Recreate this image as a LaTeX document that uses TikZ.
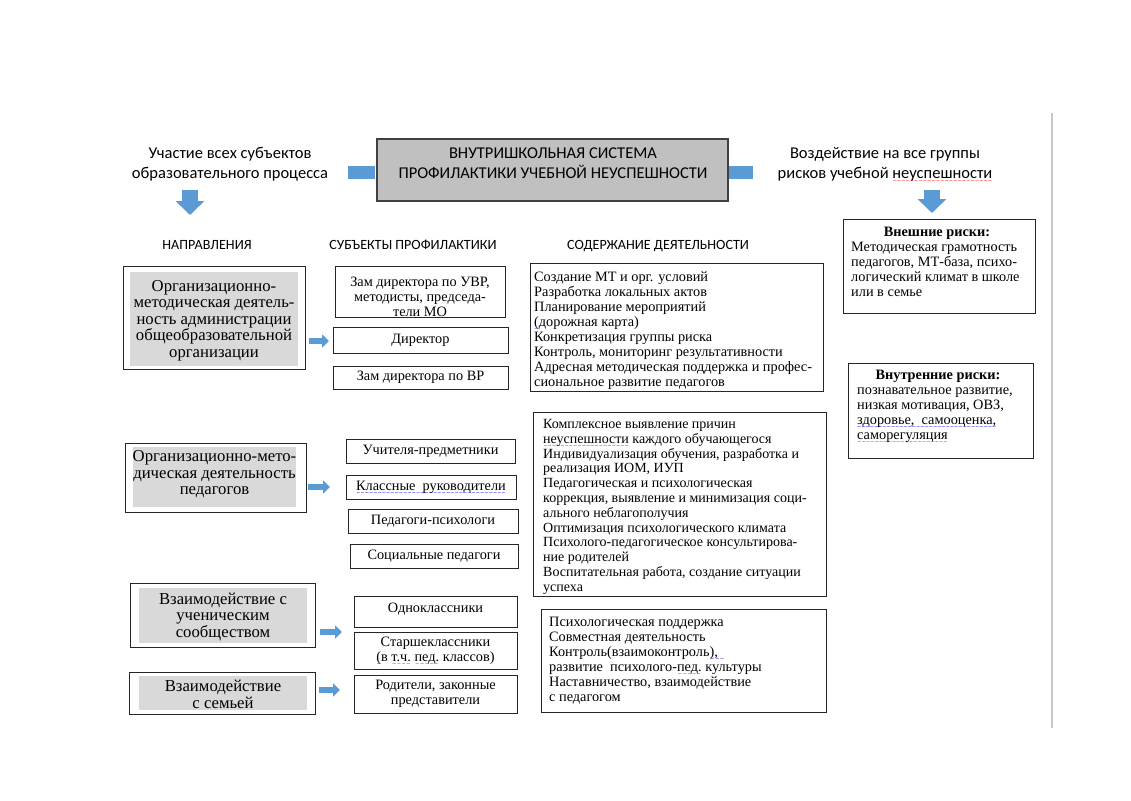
\documentclass[tikz,border=0pt]{standalone}
\usepackage{fontspec}
\setmainfont{Liberation Serif}
\newfontfamily\calfont{Carlito}
\newfontfamily\wavefont{DejaVu Sans}
\usetikzlibrary{fit,arrows.meta}
\definecolor{arrowblue}{HTML}{5B9BD5}
\definecolor{boxgray}{HTML}{C0C0C0}
\definecolor{padgray}{HTML}{D9D9D9}
\newcommand\wavy[2]{\leavevmode\setbox0\hbox{#2}\rlap{\raisebox{-4.2pt}[0pt][0pt]{\textcolor{#1}{\wavefont\fontsize{5}{5}\selectfont\hbox to \wd0{\xleaders\hbox{\char126}\hfill}}}}\box0\relax}
\newcommand\bodyfont{\fontsize{14.3}{15}\selectfont}
\newcommand\bodyfontb{\fontsize{14}{14.8}\selectfont}
\newcommand\dirfont{\fontsize{16.7}{16.5}\selectfont}
\newcommand\topfont{\calfont\fontsize{16.5}{20}\selectfont}
\newcommand\headfont{\calfont\fontsize{14.1}{16}\selectfont}
\tikzset{
  frame/.style={draw=black!85, line width=0.9pt, inner sep=0pt},
  mainbox/.style={draw=black!75, fill=boxgray, line width=1.2pt, inner sep=0pt},
  graypad/.style={fill=padgray, inner sep=0pt},
  subjtext/.style={align=center, font=\bodyfont, inner sep=0pt},
  body/.style={anchor=north west, inner sep=0pt, align=left, font=\bodyfont},
  dirtext/.style={align=center, font=\dirfont, inner sep=0pt},
  toptext/.style={align=center, font=\topfont, inner sep=0pt},
  headtext/.style={anchor=base, font=\headfont, inner sep=0pt},
  risktitle/.style={anchor=base, font=\bodyfont\bfseries, inner sep=0pt},
  bluebar/.style={fill=arrowblue, inner sep=0pt},
  blockarrow/.style={draw=arrowblue, line width=5.5pt, -{Triangle[length=7pt,width=13pt]}},
  bigarrow/.style={draw=arrowblue, line width=16pt, -{Triangle[length=14pt,width=28pt]}},
  pageedge/.style={draw=black!22, line width=1.5pt}
}
\begin{document}
\begin{tikzpicture}[x=1pt,y=-1pt]
\useasboundingbox (0,0) rectangle (1131,800);
\fill[white] (0,0) rectangle (1131,800);

% page edge
\coordinate (pe1) at (1052,113);
\coordinate (pe2) at (1052,728);
\draw[pageedge] (pe1) -- (pe2);

% top
\node[mainbox, fit={(377,139)(728,201)}] (main) {};
\node[toptext] (maint) at (553,163) {ВНУТРИШКОЛЬНАЯ СИСТЕМА\\ПРОФИЛАКТИКИ УЧЕБНОЙ НЕУСПЕШНОСТИ};
\node[bluebar, fit={(348,166)(375,179)}] (barl) {};
\node[bluebar, fit={(729,166)(753,179)}] (barr) {};
\node[toptext] (uch) at (230,164) {Участие всех субъектов\\образовательного процесса};
\node[toptext] (vozd) at (885,164.5) {Воздействие на все группы\\рисков учебной \wavy{red}{неуспешности}};
\coordinate (dl1) at (190,190);
\coordinate (dl2) at (190,215);
\draw[bigarrow] (dl1) -- (dl2);
\coordinate (dr1) at (932,190);
\coordinate (dr2) at (932,213);
\draw[bigarrow] (dr1) -- (dr2);

% headers
\node[headtext] (h1) at (207,249.5) {НАПРАВЛЕНИЯ};
\node[headtext] (h2) at (413,249.5) {СУБЪЕКТЫ ПРОФИЛАКТИКИ};
\node[headtext] (h3) at (658,249.5) {СОДЕРЖАНИЕ ДЕЯТЕЛЬНОСТИ};

% directions
\node[frame, fit={(123,266)(305,369)}] (d1) {};
\node[graypad, fit={(130,272)(298,366)}] (d1in) {};
\node[dirtext] (d1t) at (214,320.5) {Организационно-\\методическая деятель-\\ность администрации\\общеобразовательной\\организации};

\node[frame, fit={(125,443)(306,512)}] (d2) {};
\node[graypad, fit={(133,447)(296,507)}] (d2in) {};
\node[dirtext] (d2t) at (214.5,474.5) {Организационно-мето-\\дическая деятельность\\педагогов};

\node[frame, fit={(130,583)(315,647)}] (d3) {};
\node[graypad, fit={(139,588)(307,643)}] (d3in) {};
\node[dirtext] (d3t) at (223,617) {Взаимодействие с\\ученическим\\сообществом};

\node[frame, fit={(129,672)(315,714)}] (d4) {};
\node[graypad, fit={(139,676)(307,710)}] (d4in) {};
\node[dirtext] (d4t) at (223,694.5) {Взаимодействие\\с семьей};

% subjects
\node[frame, fit={(335,266)(505,317)}] (s1) {};
\node[subjtext] (s1t) at (420,297) {Зам директора по УВР,\\методисты, председа-\\тели МО};
\node[frame, fit={(333,327)(508,353)}] (s2) {};
\node[subjtext] (s2t) at (s2.center) {Директор};
\node[frame, fit={(333,366)(508,389)}] (s3) {};
\node[subjtext] (s3t) at (s3.center) {Зам директора по ВР};
\node[frame, fit={(346,439)(515,463)}] (s4) {};
\node[subjtext] (s4t) at (s4.center) {Учителя-предметники};
\node[frame, fit={(346,475)(516,499)}] (s5) {};
\node[subjtext] (s5t) at (s5.center) {\wavy{blue}{Классные\ \ руководители}};
\node[frame, fit={(348,509)(518,533)}] (s6) {};
\node[subjtext] (s6t) at (s6.center) {Педагоги-психологи};
\node[frame, fit={(350,544)(518,568)}] (s7) {};
\node[subjtext] (s7t) at (s7.center) {Социальные педагоги};
\node[frame, fit={(354,596)(517,627)}] (s8) {};
\node[subjtext] (s8t) at (435.5,609) {Одноклассники};
\node[frame, fit={(354,632)(517,669)}] (s9) {};
\node[subjtext] (s9t) at (s9.center) {Старшеклассники\\\wavy{blue}{(}в \wavy{red}{т.ч.} \wavy{red}{пед.} классов)};
\node[frame, fit={(354,675)(517,713)}] (s10) {};
\node[subjtext] (s10t) at (s10.center) {Родители, законные\\представители};

% arrows
\coordinate (a1s) at (309,341); \coordinate (a1e) at (329,341);
\draw[blockarrow] (a1s) -- (a1e);
\coordinate (a2s) at (308,487); \coordinate (a2e) at (330,487);
\draw[blockarrow] (a2s) -- (a2e);
\coordinate (a3s) at (320,632); \coordinate (a3e) at (342,632);
\draw[blockarrow] (a3s) -- (a3e);
\coordinate (a4s) at (319,690); \coordinate (a4e) at (340,690);
\draw[blockarrow] (a4s) -- (a4e);

% contents
\node[frame, fit={(530,263)(823,391)}] (c1) {};
\node[body] (c1t) at (534,271) {\strut Создание МТ и орг. условий\\Разработка локальных актов\\Планирование мероприятий\\\wavy{blue}{(}дорожная карта)\\Конкретизация группы риска\\Контроль, мониторинг результативности\\Адресная методическая поддержка и профес-\\сиональное развитие педагогов};

\node[frame, fit={(533,412)(826,596)}] (c2) {};
\node[body, font=\bodyfontb] (c2t) at (543,418) {\strut Комплексное выявление причин\\\wavy{red}{неуспешности} каждого обучающегося\\Индивидуализация обучения, разработка и\\реализация ИОМ, ИУП\\Педагогическая и психологическая\\коррекция, выявление и минимизация соци-\\ального неблагополучия\\Оптимизация психологического климата\\Психолого-педагогическое консультирова-\\ние родителей\\Воспитательная работа, создание ситуации\\успеха};

\node[frame, fit={(541,609)(826,712)}] (c3) {};
\node[body] (c3t) at (549,616) {\strut Психологическая поддержка\\Совместная деятельность\\Контроль(взаимоконтроль\wavy{blue}{),\ \ }\\развитие\ \ психолого-\wavy{red}{пед.} культуры\\Наставничество, взаимодействие\\с педагогом};

% risks
\node[frame, fit={(843,219)(1035,313)}] (r1) {};
\node[risktitle] (r1h) at (937,236) {Внешние риски:};
\node[body] (r1t) at (851,240.5) {\strut Методическая грамотность\\педагогов, МТ-база, психо-\\логический климат в школе\\или в семье};

\node[frame, fit={(848,363)(1033,458)}] (r2) {};
\node[risktitle] (r2h) at (938,379) {Внутренние риски:};
\node[body] (r2t) at (857,383.5) {\strut познавательное развитие,\\низкая мотивация, ОВЗ,\\\wavy{blue}{здоровье,\ \ самооценка,}\\\wavy{red}{саморегуляция}};
\end{tikzpicture}
\end{document}
